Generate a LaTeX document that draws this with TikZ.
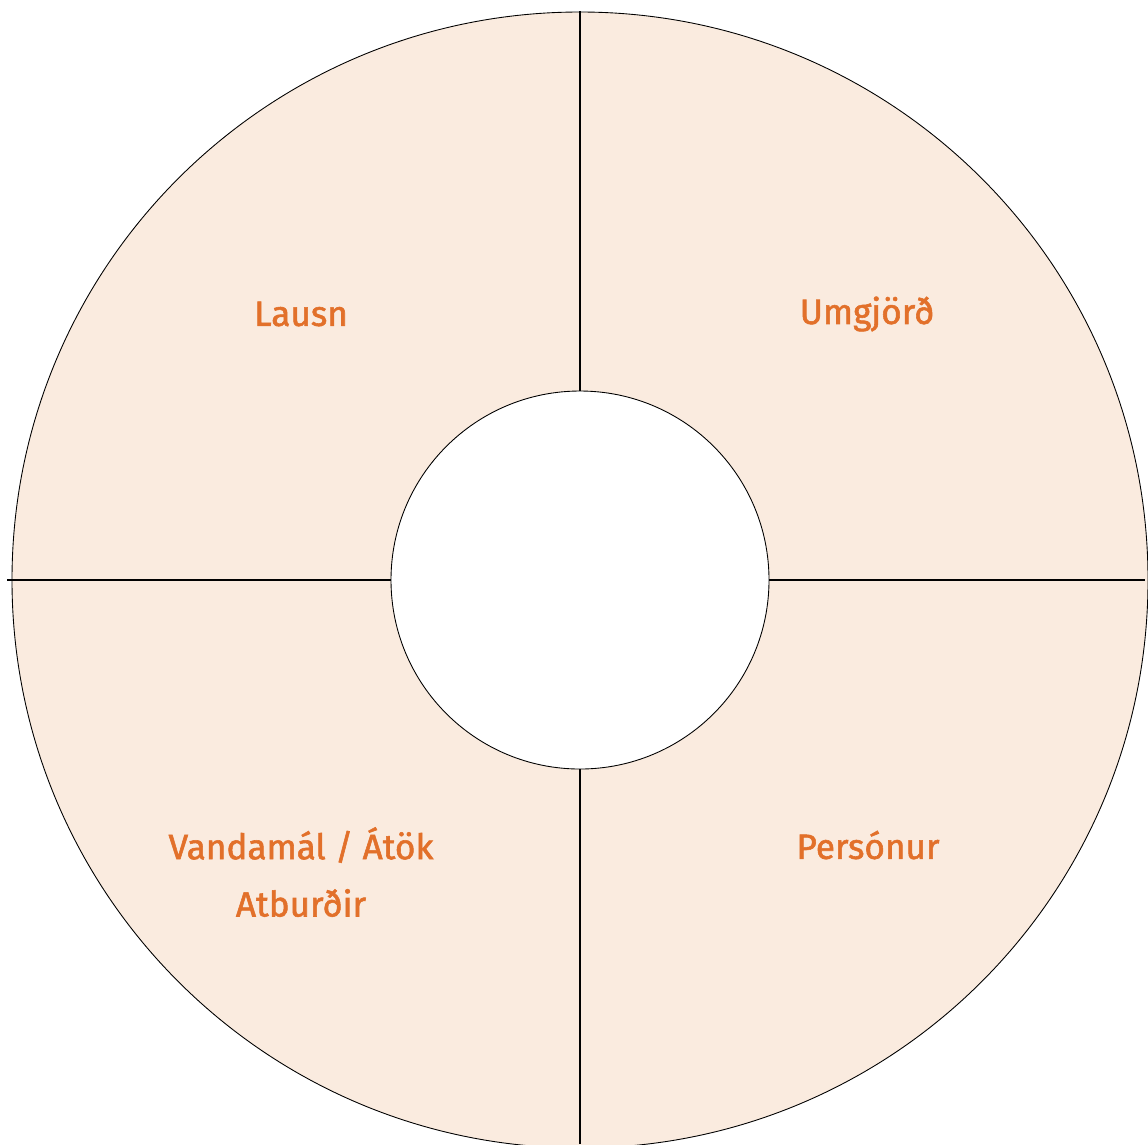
\documentclass[tikz,border=0pt]{standalone}
\usepackage{fontspec}
\setmainfont{Fira Sans}
\newfontfamily\partfont{Fira Sans}[FakeBold=1.6]
\usepackage{xcolor}
\usepackage{tikz}
\usetikzlibrary{positioning,calc}

\definecolor{peach}{HTML}{FAEBDF}
\definecolor{labelorange}{HTML}{E2702A}

\begin{document}
\begin{tikzpicture}[
    x=0.02cm, y=-0.02cm,
    font=\partfont\fontsize{20}{24}\selectfont,
    ring/.style={draw=black, line width=0.5pt},
    divider/.style={draw=black, line width=0.6pt},
    part/.style={text=labelorange, align=center}
]
\useasboundingbox (0,0) rectangle (1148,1144);
\coordinate (centre) at (580,580);

% ring
\begin{scope}
\clip (0,0) rectangle (1148,1144);
\fill[peach] (centre) circle[radius=568];
\draw[ring] (centre) circle[radius=568];
\end{scope}
\fill[white] (centre) circle[radius=189];
\draw[ring] (centre) circle[radius=189];

% dividers
\coordinate (top) at (580,11);
\coordinate (intop) at (580,391);
\coordinate (inbottom) at (580,769);
\coordinate (bottom) at (580,1144);
\coordinate (left) at (7,580);
\coordinate (inleft) at (391,580);
\coordinate (inright) at (769,580);
\coordinate (right) at (1145,580);
\draw[divider] (top) -- (intop);
\draw[divider] (inbottom) -- (bottom);
\draw[divider] (left) -- (inleft);
\draw[divider] (inright) -- (right);

% labels
\node[part] (lausn) at (301,314) {Lausn};
\node[part] (umgjord) at (867,314) {Umgjörð};
\node[part] (vandamal) at (301,845) {Vandamál / Átök};
\node[part] (atburdir) at (301,903) {Atburðir};
\node[part] (personur) at (868,845) {Persónur};
\end{tikzpicture}
\end{document}
